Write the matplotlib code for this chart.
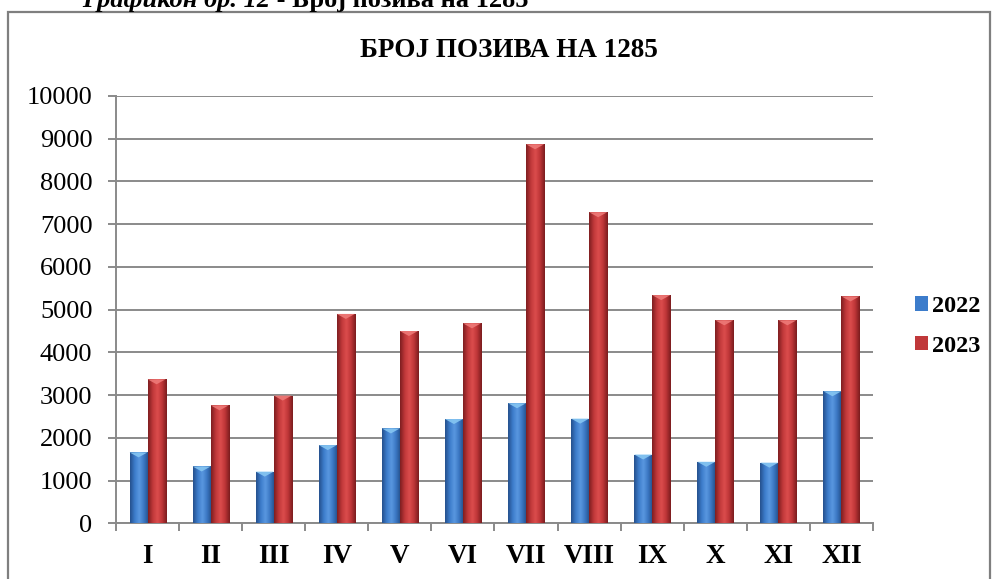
"""Број позива на 1285 - grouped bar chart, 2022 vs 2023 by month."""

import matplotlib
matplotlib.use("Agg")
import matplotlib.pyplot as plt
import numpy as np
from matplotlib.colors import LinearSegmentedColormap
from matplotlib.patches import Polygon, Rectangle

MONTHS = ["I", "II", "III", "IV", "V", "VI", "VII", "VIII", "IX", "X", "XI", "XII"]
CALLS_2022 = [1660, 1330, 1210, 1830, 2220, 2440, 2810, 2450, 1610, 1440, 1420, 3090]
CALLS_2023 = [3370, 2760, 2990, 4900, 4500, 4680, 8870, 7280, 5340, 4750, 4750, 5310]
YEARS = ["2022", "2023"]
Y_TICKS = list(range(0, 10001, 1000))

TITLE = "БРОЈ ПОЗИВА НА 1285"
CAPTION_ITALIC = "Графикон бр. 12"
CAPTION_REST = " - Број позива на 1285"

GRID = "#8a8a8a"
BLUE = ["#25508c", "#3c7ccb", "#5a98e0", "#3a76c2", "#234d86"]
RED = ["#7e1e20", "#c0383a", "#dc4d4d", "#bd3537", "#7a1c1e"]
CAP = {"2022": "#86c6f2", "2023": "#ee7a78"}

plt.rcParams["font.family"] = ["Liberation Serif", "DejaVu Serif"]

W_PX, H_PX = 995, 579


def shade(ax, bars, colors, cap_color, cap_h):
    cmap = LinearSegmentedColormap.from_list("bar", colors)
    grad = np.linspace(0, 1, 64).reshape(1, -1)
    for patch in bars:
        x, y = patch.get_x(), patch.get_y()
        w, h = patch.get_width(), patch.get_height()
        im = ax.imshow(grad, extent=(x, x + w, y, y + h), cmap=cmap,
                       aspect="auto", interpolation="bicubic", zorder=3)
        im.set_clip_path(patch)
        top = y + h
        tri = Polygon([(x, top), (x + w, top), (x + w / 2, top - cap_h)],
                      closed=True, facecolor=cap_color, edgecolor="none",
                      alpha=0.9, zorder=4)
        ax.add_patch(tri)


def main() -> None:
    fig = plt.figure(figsize=(W_PX / 100, H_PX / 100), dpi=100)
    ax = fig.add_axes([116 / W_PX, 1 - 523.3 / H_PX, (873 - 116) / W_PX, (523.3 - 96) / H_PX])

    x = np.arange(len(MONTHS))
    width = 1 / 3.5
    b1 = ax.bar(x - width / 2, CALLS_2022, width, color=BLUE[1], linewidth=0, zorder=2, label=YEARS[0])
    b2 = ax.bar(x + width / 2, CALLS_2023, width, color=RED[1], linewidth=0, zorder=2, label=YEARS[1])

    ymax = Y_TICKS[-1]
    ax_h_px = 523.3 - 96
    cap_h = ymax * 5 / ax_h_px
    shade(ax, b1, BLUE, CAP[YEARS[0]], cap_h)
    shade(ax, b2, RED, CAP[YEARS[1]], cap_h)

    ax.set_xlim(-0.5, len(MONTHS) - 0.5)
    ax.set_ylim(0, ymax)
    ax.set_yticks(Y_TICKS)
    ax.set_yticklabels([str(v) for v in Y_TICKS], fontsize=19)
    ax.set_xticks(x)
    ax.set_xticklabels(MONTHS, fontsize=19.5, fontweight="bold")
    ax.set_xticks(np.arange(-0.5, len(MONTHS)), minor=True)
    ax.tick_params(axis="x", which="major", length=0, pad=15)
    ax.tick_params(axis="x", which="minor", length=6, width=1.4, color=GRID, direction="out")
    ax.tick_params(axis="y", length=6, width=1.4, color=GRID, direction="out", pad=11)

    ax.grid(axis="y", color=GRID, linewidth=1.4, zorder=0)
    ax.set_axisbelow(True)
    for side in ("top", "right"):
        ax.spines[side].set_visible(False)
    for side in ("left", "bottom"):
        ax.spines[side].set_color(GRID)
        ax.spines[side].set_linewidth(1.4)

    ax.legend(loc="center left", bbox_to_anchor=(915 / W_PX, 1 - 326.5 / H_PX),
              bbox_transform=fig.transFigure, frameon=False, borderaxespad=0,
              borderpad=0, prop={"size": 17.5, "weight": "bold"},
              handlelength=0.55, handleheight=0.55, handletextpad=0.15,
              labelspacing=0.75)

    # outer chart border
    fig.patches.append(Rectangle((8 / W_PX, -0.02), (990 - 8) / W_PX, 1.02 - 12 / H_PX,
                                 transform=fig.transFigure, fill=False,
                                 edgecolor="#7f7f7f", linewidth=1.6))

    fig.text(509 / W_PX, 1 - 57 / H_PX, TITLE, ha="center", va="baseline",
             fontsize=19.5, fontweight="bold")

    # caption above the chart frame, partly cut at the top edge as in the source
    renderer = fig.canvas.get_renderer()
    cap1 = fig.text(82 / W_PX, 1 - 7 / H_PX, CAPTION_ITALIC, ha="left", va="baseline",
                    fontsize=19, fontweight="bold", style="italic")
    bb = cap1.get_window_extent(renderer)
    fig.text(bb.x1 / W_PX, 1 - 7 / H_PX, CAPTION_REST, ha="left", va="baseline",
             fontsize=19, fontweight="bold")

    fig.savefig("out.png", dpi=100)


if __name__ == "__main__":
    main()
